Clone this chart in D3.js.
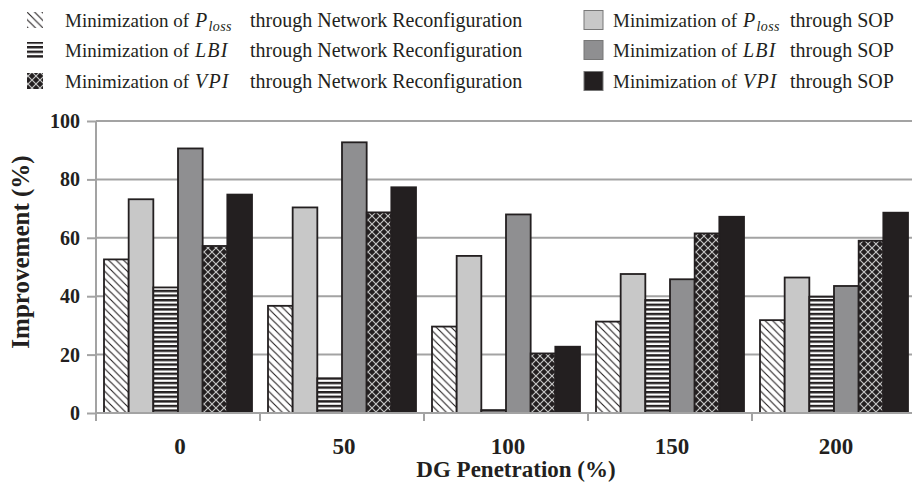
<!DOCTYPE html>
<html>
<head>
<meta charset="utf-8">
<script src="https://cdn.jsdelivr.net/npm/d3@7"></script>
<style>
  html, body { margin: 0; padding: 0; background: #fff; }
  svg { display: block; }
</style>
</head>
<body>
<svg id="chart" width="912" height="483"></svg>
<script>
// DG penetration levels (%)
const categories = ["0", "50", "100", "150", "200"];

// Improvement (%) per objective and method
const plossReconfig = [52.6, 36.7, 29.6, 31.3, 31.8];
const plossSOP      = [73.2, 70.4, 53.8, 47.6, 46.4];
const lbiReconfig   = [43.0, 11.9, 1.0, 38.7, 39.8];
const lbiSOP        = [90.6, 92.7, 68.0, 45.8, 43.5];
const vpiReconfig   = [57.2, 68.7, 20.4, 61.5, 59.0];
const vpiSOP        = [74.8, 77.3, 22.7, 67.2, 68.6];

const yTicks = [0, 20, 40, 60, 80, 100];

const SERIF = "'Liberation Serif', 'Times New Roman', serif";
const INK = "#231f20";
const GRID = "#a3a3a3";

const seriesKeys = ["plossNR", "plossSOP", "lbiNR", "lbiSOP", "vpiNR", "vpiSOP"];
const seriesValues = {
  plossNR: plossReconfig, plossSOP: plossSOP,
  lbiNR: lbiReconfig, lbiSOP: lbiSOP,
  vpiNR: vpiReconfig, vpiSOP: vpiSOP
};
const seriesFill = {
  plossNR: "url(#hatch)", plossSOP: "#c8c8c8",
  lbiNR: "url(#hstripe)", lbiSOP: "#8f8f91",
  vpiNR: "url(#lattice)", vpiSOP: INK
};

const svg = d3.select("#chart");
const defs = svg.append("defs");

// Diagonal hatch (\\\)
const hatch = defs.append("pattern").attr("id", "hatch")
  .attr("patternUnits", "userSpaceOnUse").attr("width", 7.5).attr("height", 7.5);
hatch.append("rect").attr("width", 7.5).attr("height", 7.5).attr("fill", "#fff");
hatch.append("path").attr("d", "M-1,-1 L8.5,8.5 M-4.75,2.75 L0.75,8.25 M2.75,-4.75 L12.25,4.75")
  .attr("stroke", INK).attr("stroke-width", 1.1);

// Horizontal stripes
const hs = defs.append("pattern").attr("id", "hstripe")
  .attr("patternUnits", "userSpaceOnUse").attr("width", 8).attr("height", 4.6);
hs.append("rect").attr("width", 8).attr("height", 4.6).attr("fill", "#fff");
hs.append("rect").attr("y", 0).attr("width", 8).attr("height", 2.4).attr("fill", INK);

// Diamond lattice on black
const lat = defs.append("pattern").attr("id", "lattice")
  .attr("patternUnits", "userSpaceOnUse").attr("width", 8).attr("height", 8);
lat.append("rect").attr("width", 8).attr("height", 8).attr("fill", INK);
lat.append("path").attr("d", "M0,0 L8,8 M8,0 L0,8")
  .attr("stroke", "#c4c4c4").attr("stroke-width", 1.2);

const plotLeft = 96, plotRight = 916, plotTop = 121, plotBottom = 413;

const x0 = d3.scaleBand().domain(categories).range([plotLeft, plotRight]).padding(0);
const x1 = d3.scaleBand().domain(seriesKeys)
  .range([8, x0.bandwidth() - 8]).padding(0);
const y = d3.scaleLinear().domain([0, 100]).range([plotBottom, plotTop]);

// Gridlines
svg.append("g").selectAll("line").data(yTicks.filter(t => t > 0)).join("line")
  .attr("x1", plotLeft).attr("x2", 912)
  .attr("y1", d => y(d)).attr("y2", d => y(d))
  .attr("stroke", GRID).attr("stroke-width", 2);

// Y axis
const yAxis = svg.append("g").attr("transform", `translate(${plotLeft},0)`)
  .call(d3.axisLeft(y).tickValues(yTicks).tickSize(9).tickPadding(7));
yAxis.select(".domain").attr("stroke", GRID).attr("stroke-width", 2)
  .attr("d", `M0,${plotTop}V${plotBottom + 8}`);
yAxis.selectAll(".tick line").attr("stroke", GRID).attr("stroke-width", 2);
yAxis.selectAll(".tick text")
  .style("font-family", SERIF).attr("font-weight", "bold")
  .attr("font-size", 20).attr("fill", INK);

// Bars
const groups = svg.append("g").selectAll("g").data(categories).join("g")
  .attr("transform", d => `translate(${x0(d)},0)`);
groups.selectAll("rect")
  .data((c, i) => seriesKeys.map(k => ({ key: k, value: seriesValues[k][i] })))
  .join("rect")
  .attr("x", d => x1(d.key))
  .attr("width", x1.bandwidth())
  .attr("y", d => y(d.value))
  .attr("height", d => y(0) - y(d.value))
  .attr("fill", d => seriesFill[d.key])
  .attr("stroke", INK).attr("stroke-width", 1.8);

// X axis
const xAxis = svg.append("g").attr("transform", `translate(2,${plotBottom})`)
  .call(d3.axisBottom(x0).tickSize(0).tickPadding(25));
xAxis.select(".domain").attr("stroke", GRID).attr("stroke-width", 2)
  .attr("d", `M${plotLeft - 2},0H912`);
xAxis.selectAll(".tick text")
  .style("font-family", SERIF).attr("font-weight", "bold")
  .attr("font-size", 23).attr("fill", INK);
// category separators
svg.append("g").selectAll("line").data(categories.slice(1)).join("line")
  .attr("x1", d => x0(d)).attr("x2", d => x0(d))
  .attr("y1", plotBottom).attr("y2", plotBottom + 8)
  .attr("stroke", GRID).attr("stroke-width", 2);

// Axis titles
svg.append("text").attr("x", 516).attr("y", 477)
  .attr("text-anchor", "middle").style("font-family", SERIF)
  .attr("font-weight", "bold").attr("font-size", 23).attr("fill", INK)
  .text("DG Penetration (%)");
svg.append("text").attr("transform", "translate(29,252) rotate(-90)")
  .attr("text-anchor", "middle").style("font-family", SERIF)
  .attr("font-weight", "bold").attr("font-size", 25).attr("fill", INK)
  .text("Improvement (%)");

// Legend
const legendLeft = [
  { key: "plossNR", sym: "P", sub: "loss", tail: "through Network Reconfiguration" },
  { key: "lbiNR", sym: "LBI", sub: null, tail: "through Network Reconfiguration" },
  { key: "vpiNR", sym: "VPI", sub: null, tail: "through Network Reconfiguration" }
];
const legendRight = [
  { key: "plossSOP", sym: "P", sub: "loss", tail: "through SOP" },
  { key: "lbiSOP", sym: "LBI", sub: null, tail: "through SOP" },
  { key: "vpiSOP", sym: "VPI", sub: null, tail: "through SOP" }
];
const rowY = [20, 50, 81];
const LEG_FS = 19;

function drawLegend(items, cfg) {
  items.forEach((it, i) => {
    const g = svg.append("g");
    g.append("rect").attr("x", cfg.sx).attr("y", rowY[i] - cfg.sw / 2)
      .attr("width", cfg.sw).attr("height", cfg.sw)
      .attr("fill", seriesFill[it.key])
      .attr("stroke", cfg.stroke).attr("stroke-width", 1);
    const base = rowY[i] + 6.5;
    const lead = g.append("text").attr("x", cfg.tx).attr("y", base)
      .style("font-family", SERIF).attr("font-size", LEG_FS).attr("fill", INK)
      .text("Minimization of");
    const mx = cfg.tx + lead.node().getComputedTextLength() + 6;
    const m = g.append("text").attr("x", mx).attr("y", base)
      .style("font-family", SERIF).attr("font-style", "italic")
      .attr("font-size", LEG_FS + 1).attr("letter-spacing", 1.2).attr("fill", INK);
    m.append("tspan").text(it.sym);
    if (it.sub) {
      m.append("tspan").attr("font-size", 14).attr("letter-spacing", 0.4)
        .attr("dy", 4).text(it.sub);
    }
    const mEnd = mx + m.node().getComputedTextLength();
    g.append("text").attr("x", Math.max(cfg.ux, mEnd + 5)).attr("y", base)
      .style("font-family", SERIF).attr("font-size", LEG_FS + 1).attr("fill", INK)
      .text(it.tail);
  });
}
drawLegend(legendLeft, { sx: 27, sw: 16, stroke: "none", tx: 65, ux: 250 });
drawLegend(legendRight, { sx: 584, sw: 19, stroke: "#777", tx: 613, ux: 790 });
</script>
</body>
</html>
